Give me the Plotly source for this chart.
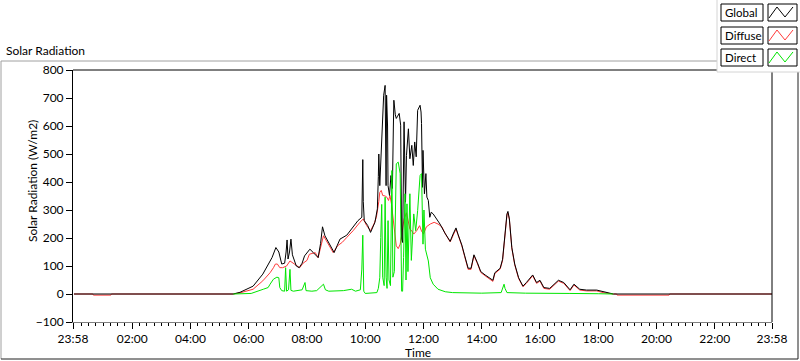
import plotly.graph_objects as go

# ---------------- data ----------------
global_time = ["00:00","05:28","05:42","06:09","06:29","06:40","06:48","06:56","07:02","07:08","07:14","07:17",
               "07:19","07:21","07:24","07:27","07:30","07:33","07:38","07:44","07:50","07:55","08:02","08:06",
               "08:13","08:23","08:28","08:32","08:37","08:43","08:52","08:56","09:02","09:08","09:22","09:35",
               "09:45","09:53","09:54","09:55","09:56","09:58","10:05","10:11","10:20","10:25","10:27","10:28",
               "10:30","10:34","10:36","10:38","10:41","10:42","10:43","10:44","10:46","10:47","10:50","10:53",
               "10:56","10:58","10:59","11:02","11:04","11:06","11:10","11:13","11:15","11:17","11:19","11:20",
               "11:23","11:25","11:29","11:32","11:36","11:39","11:42","11:45","11:48","11:51","11:53","11:55",
               "11:56","11:58","11:59","12:02","12:05","12:07","12:10","12:13","12:16","12:20","12:27","12:34",
               "12:44","12:55","13:01","13:07","13:11","13:19","13:25","13:32","13:38","13:44","13:51","13:58",
               "14:07","14:17","14:23","14:27","14:38","14:43","14:48","14:52","14:54","14:57","15:02","15:08",
               "15:16","15:25","15:32","15:45","15:53","16:00","16:08","16:20","16:38","16:49","17:02","17:10",
               "17:22","17:36","17:57","18:10","18:31","23:58"]
global_value = [0,0,6,28,71,107,130,166,150,107,110,150,
                193,125,150,196,140,125,100,94,110,136,154,160,
                148,130,180,240,208,190,160,148,172,196,210,240,
                262,274,400,480,330,262,245,220,256,304,420,500,
                387,560,663,710,745,420,387,710,600,387,352,423,
                377,600,692,640,627,633,645,603,196,184,400,615,
                328,495,590,483,531,459,543,490,656,668,674,650,
                609,381,513,358,430,346,334,274,292,286,270,250,
                218,188,214,236,214,175,136,92,92,140,112,80,
                68,56,49,76,92,124,226,286,295,268,166,107,
                58,28,41,68,41,49,23,20,49,41,15,35,
                17,14,14,8,0,0]

diffuse_time = ["00:00","00:39","00:40","01:16","01:17","05:28","05:42","06:09","06:29","06:44","06:51","06:55",
                "06:59","07:04","07:10","07:18","07:25","07:35","07:45","07:52","08:00","08:05","08:17","08:23",
                "08:34","08:40","08:54","09:03","09:13","09:22","09:35","09:49","09:56","10:03","10:11","10:18",
                "10:23","10:28","10:30","10:33","10:36","10:41","10:45","10:48","10:51","10:54","10:58","11:01",
                "11:04","11:08","11:12","11:16","11:20","11:25","11:28","11:32","11:36","11:40","11:46","11:52",
                "11:56","12:00","12:06","12:14","12:22","12:30","12:38","12:45","12:55","13:01","13:07","13:11",
                "13:19","13:25","13:32","13:38","13:44","13:51","13:58","14:07","14:17","14:23","14:27","14:38",
                "14:43","14:48","14:52","14:54","14:57","15:02","15:08","15:16","15:25","15:32","15:45","15:53",
                "16:00","16:08","16:20","16:38","16:49","17:02","17:10","17:22","17:36","17:57","18:10","18:31",
                "18:38","18:39","20:26","20:27","23:58"]
diffuse_value = [0,0,-4,-4,0,0,4,17,47,76,94,107,
                 107,94,94,100,118,107,94,110,120,142,148,130,
                 208,190,148,172,185,202,226,256,268,244,226,250,
                 274,330,363,370,352,350,345,334,352,322,260,220,
                 172,162,178,220,268,290,260,232,225,214,226,244,
                 225,214,240,250,256,250,240,215,186,210,232,212,
                 172,133,88,88,137,109,77,65,53,45,73,89,
                 120,220,282,290,266,163,104,55,26,38,65,38,
                 46,20,17,46,38,12,32,14,11,11,5,0,
                 0,-4,-4,0,0]

direct_time = ["05:28","06:05","06:30","06:40","06:44","06:51","06:58","07:02","07:04","07:08","07:14","07:16",
               "07:18","07:22","07:25","07:27","07:32","07:40","07:50","07:56","07:58","08:10","08:20","08:34",
               "08:38","08:45","09:00","09:15","09:32","09:40","09:50","09:53","09:55","09:57","10:00","10:14",
               "10:24","10:27","10:30","10:32","10:34","10:36","10:39","10:41","10:43","10:45","10:47","10:49",
               "10:52","10:55","10:57","11:00","11:04","11:08","11:12","11:15","11:17","11:19","11:22","11:24",
               "11:26","11:28","11:32","11:35","11:40","11:44","11:48","11:53","11:56","11:59","12:01","12:04",
               "12:10","12:14","12:20","12:30","12:45","13:00","13:30","14:00","14:40","14:46","14:48","14:52",
               "15:30","16:00","17:00","18:00","18:31"]
direct_value = [0,2,17,23,35,53,60,58,23,12,10,94,
                10,15,88,13,10,12,15,41,12,10,12,35,
                15,10,10,12,17,10,15,89,210,10,2,5,
                5,20,58,202,320,60,30,346,60,20,262,50,
                30,441,60,80,465,471,430,10,10,130,358,50,
                322,80,358,120,286,226,298,423,430,178,300,160,
                118,58,35,17,8,5,3,3,5,35,20,5,
                3,2,2,1,0]

x_tick_labels = ["23:58","02:00","04:00","06:00","08:00","10:00","12:00",
                 "14:00","16:00","18:00","20:00","22:00","23:58"]
y_tick_values = [-100, 0, 100, 200, 300, 400, 500, 600, 700, 800]

series_names = ["Global", "Diffuse", "Direct"]
series_colors = ["#000000", "#ff3a3a", "#00e600"]


def hrs(s):
    h, m = s.split(":")
    return int(h) + int(m) / 60.0


x_tick_vals = [hrs(t) for t in x_tick_labels]
x_tick_vals[0] = x_tick_vals[0] - 24.0  # previous day's 23:58

# ---------------- layout geometry (pixels) ----------------
W, H = 800, 361
PL, PR, PT, PB = 73, 772, 70, 322


def px(xp):
    return (xp - PL) / (PR - PL)


def py(yp):
    return (PB - yp) / (PB - PT)


FONT = "Lato, 'Noto Sans', sans-serif"

fig = go.Figure()
fig.add_trace(go.Scatter(x=[hrs(t) for t in diffuse_time], y=diffuse_value, mode="lines",
                         name=series_names[1], line=dict(color=series_colors[1], width=1)))
fig.add_trace(go.Scatter(x=[hrs(t) for t in global_time], y=global_value, mode="lines",
                         name=series_names[0], line=dict(color=series_colors[0], width=1)))
fig.add_trace(go.Scatter(x=[hrs(t) for t in direct_time], y=direct_value, mode="lines",
                         name=series_names[2], line=dict(color=series_colors[2], width=1)))

shapes = []
# outer frame (sunken look)
shapes.append(dict(type="line", xref="paper", yref="paper", x0=px(1), x1=px(717), y0=py(61), y1=py(61),
                   line=dict(color="#a0a0a0", width=1)))
shapes.append(dict(type="line", xref="paper", yref="paper", x0=px(1), x1=px(1), y0=py(61), y1=py(359),
                   line=dict(color="#a0a0a0", width=1)))
shapes.append(dict(type="line", xref="paper", yref="paper", x0=px(1), x1=px(798), y0=py(359), y1=py(359),
                   line=dict(color="#202020", width=1)))
shapes.append(dict(type="line", xref="paper", yref="paper", x0=px(798), x1=px(798), y0=py(61), y1=py(359),
                   line=dict(color="#202020", width=1)))
# plot border top/right
shapes.append(dict(type="line", xref="paper", yref="paper", x0=0, x1=1, y0=1, y1=1,
                   line=dict(color="#000000", width=1)))
shapes.append(dict(type="line", xref="paper", yref="paper", x0=1, x1=1, y0=0, y1=1,
                   line=dict(color="#000000", width=1)))
# legend backdrop
shapes.append(dict(type="rect", xref="paper", yref="paper", x0=px(717), x1=px(801), y0=py(72), y1=py(-1),
                   fillcolor="#ffffff", line=dict(color="#d4d4d4", width=1), layer="above"))

annotations = []
row_tops = [4, 27, 49]
for name, color, top in zip(series_names, series_colors, row_tops):
    shapes.append(dict(type="rect", xref="paper", yref="paper", x0=px(721), x1=px(763),
                       y0=py(top + 17), y1=py(top), fillcolor="#ffffff",
                       line=dict(color="#000000", width=1), layer="above"))
    shapes.append(dict(type="rect", xref="paper", yref="paper", x0=px(768), x1=px(797),
                       y0=py(top + 17), y1=py(top), fillcolor="#ffffff",
                       line=dict(color="#000000", width=1), layer="above"))
    zz = [(769, top + 14), (777, top + 3), (785, top + 13), (793, top + 3)]
    path = "M " + " L ".join(f"{px(a):.5f},{py(b):.5f}" for a, b in zz)
    shapes.append(dict(type="path", xref="paper", yref="paper", path=path,
                       line=dict(color=color, width=1), layer="above"))
    annotations.append(dict(xref="paper", yref="paper", x=px(723), y=py(top + 8.5), text=name,
                            showarrow=False, xanchor="left", yanchor="middle",
                            font=dict(family=FONT, size=11.5, color="#000000")))

annotations.append(dict(xref="paper", yref="paper", x=px(4), y=py(50), text="Solar Radiation",
                        showarrow=False, xanchor="left", yanchor="middle",
                        font=dict(family=FONT, size=12, color="#000000")))
annotations.append(dict(xref="paper", yref="paper", x=px(32), y=py(181), text="Solar Radiation (W/m2)",
                        showarrow=False, xanchor="center", yanchor="middle", textangle=-90,
                        font=dict(family=FONT, size=12, color="#000000")))
annotations.append(dict(xref="paper", yref="paper", x=px(418), y=py(352), text="Time",
                        showarrow=False, xanchor="center", yanchor="middle",
                        font=dict(family=FONT, size=12, color="#000000")))

fig.update_layout(
    width=W, height=H,
    margin=dict(l=PL, r=W - PR, t=PT, b=H - PB, pad=0),
    paper_bgcolor="#ffffff", plot_bgcolor="#ffffff",
    showlegend=False,
    shapes=shapes, annotations=annotations,
    font=dict(family=FONT, size=12, color="#000000"),
    xaxis=dict(range=[x_tick_vals[0], x_tick_vals[-1]], tickmode="array",
               tickvals=x_tick_vals, ticktext=x_tick_labels,
               ticks="outside", ticklen=6, tickcolor="#000000", tickwidth=1,
               showgrid=False, zeroline=False, showline=True, linecolor="#808080", linewidth=1,
               tickfont=dict(family=FONT, size=12, color="#000000"),
               minor=dict(ticks="outside", ticklen=3, tickcolor="#000000", tickwidth=1,
                          dtick=0.25, tick0=0, showgrid=False)),
    yaxis=dict(range=[-100, 800], tickmode="array", tickvals=y_tick_values,
               ticks="outside", ticklen=6, tickcolor="#000000", tickwidth=1,
               showgrid=False, zeroline=False, showline=True, linecolor="#000000", linewidth=1,
               tickfont=dict(family=FONT, size=12, color="#000000")),
)

fig.write_html("out.html", config={"displayModeBar": False},
               post_script="document.body.style.margin='0';document.body.style.overflow='hidden';")
